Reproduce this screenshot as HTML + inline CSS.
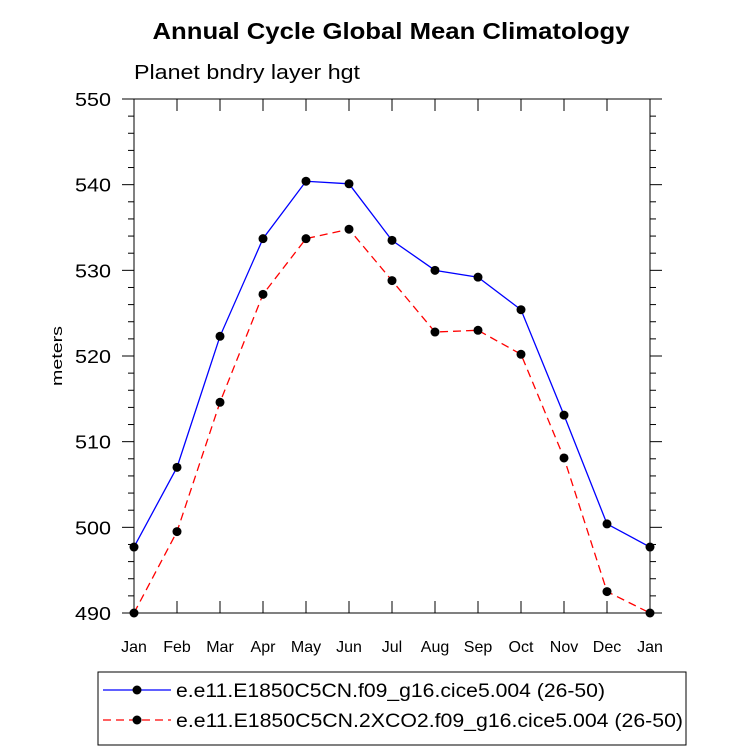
<!DOCTYPE html>
<html><head><meta charset="utf-8"><style>
body{margin:0;background:#fff;}
svg text{font-family:"Liberation Sans",sans-serif;fill:#000;}
</style></head><body>
<svg id="chart" width="733" height="748">
<text x="391" y="39" text-anchor="middle" font-size="23" font-weight="bold" textLength="477" lengthAdjust="spacingAndGlyphs">Annual Cycle Global Mean Climatology</text>
<text x="134" y="79" font-size="20" textLength="226" lengthAdjust="spacingAndGlyphs">Planet bndry layer hgt</text>
<text transform="translate(62,356) rotate(-90)" text-anchor="middle" font-size="15" textLength="60" lengthAdjust="spacingAndGlyphs">meters</text>
<g id="axes"></g>
<g id="series"></g>
<rect x="98" y="672" width="588" height="73" fill="none" stroke="#000" stroke-width="1"/>
<g id="legend"></g>
</svg>
<script>
const months=["Jan","Feb","Mar","Apr","May","Jun","Jul","Aug","Sep","Oct","Nov","Dec","Jan"];
const yTicks=[490,500,510,520,530,540,550];
const ctrl=[497.7,507.0,522.3,533.7,540.4,540.1,533.5,530.0,529.2,525.4,513.1,500.4,497.7];
const co2=[490.0,499.5,514.6,527.2,533.7,534.8,528.8,522.8,523.0,520.2,508.1,492.5,490.0];
const seriesNames=["e.e11.E1850C5CN.f09_g16.cice5.004 (26-50)","e.e11.E1850C5CN.2XCO2.f09_g16.cice5.004 (26-50)"];
const legendWidths=[429,507];
const L=134,R=650,T=99,B=613,ns="http://www.w3.org/2000/svg";
const xs=i=>L+(R-L)*i/(months.length-1);
const ys=v=>B-(v-490)/(550-490)*(B-T);
function mk(tag,attrs,parent){const e=document.createElementNS(ns,tag);for(const k in attrs)e.setAttribute(k,attrs[k]);parent.appendChild(e);return e;}
const ax=document.getElementById('axes');
const frame=mk('rect',{x:L,y:T,width:R-L,height:B-T,fill:'none',stroke:'#000','stroke-width':1},ax);


months.forEach((m,i)=>{const x=xs(i);
mk('line',{x1:x,y1:B,x2:x,y2:B-12,stroke:'#000'},ax);
mk('line',{x1:x,y1:T,x2:x,y2:T+12,stroke:'#000'},ax);
const t=mk('text',{x:x,y:652,'text-anchor':'middle','font-size':16},ax);t.textContent=m;

});
for(let v=490;v<=550;v+=2){const y=ys(v);const major=(v%10===0);const len=major?12:6;
mk('line',{x1:L,y1:y,x2:L-len,y2:y,stroke:'#000'},ax);
mk('line',{x1:R,y1:y,x2:R+len,y2:y,stroke:'#000'},ax);}
yTicks.forEach(v=>{const t=mk('text',{x:111,y:ys(v)+7,'text-anchor':'end','font-size':18,textLength:36,lengthAdjust:'spacingAndGlyphs'},ax);t.textContent=v;

});
const sg=document.getElementById('series');
function draw(vals,color,dash,name){const g=mk('g',{},sg);


mk('polyline',{points:vals.map((v,i)=>xs(i)+','+ys(v)).join(' '),fill:'none',stroke:color,'stroke-width':1.3,'stroke-dasharray':dash},g);
vals.forEach((v,i)=>{const c=mk('circle',{cx:xs(i),cy:ys(v),r:4.5,fill:'#000'},g);

});}
draw(ctrl,'#0000ff','none','series-control');
draw(co2,'#ff0000','8,5','series-2xco2');
const lg=document.getElementById('legend');
[[690,'#0000ff','none'],[720,'#ff0000','8,5']].forEach((d,i)=>{const g=mk('g',{},lg);


mk('line',{x1:103,y1:d[0],x2:171,y2:d[0],stroke:d[1],'stroke-width':1.3,'stroke-dasharray':d[2]},g);
mk('circle',{cx:137,cy:d[0],r:4.5,fill:'#000'},g);
const t=mk('text',{x:176,y:d[0]+7,'font-size':19,textLength:legendWidths[i],lengthAdjust:'spacingAndGlyphs'},g);t.textContent=seriesNames[i];});
</script>
</body></html>
